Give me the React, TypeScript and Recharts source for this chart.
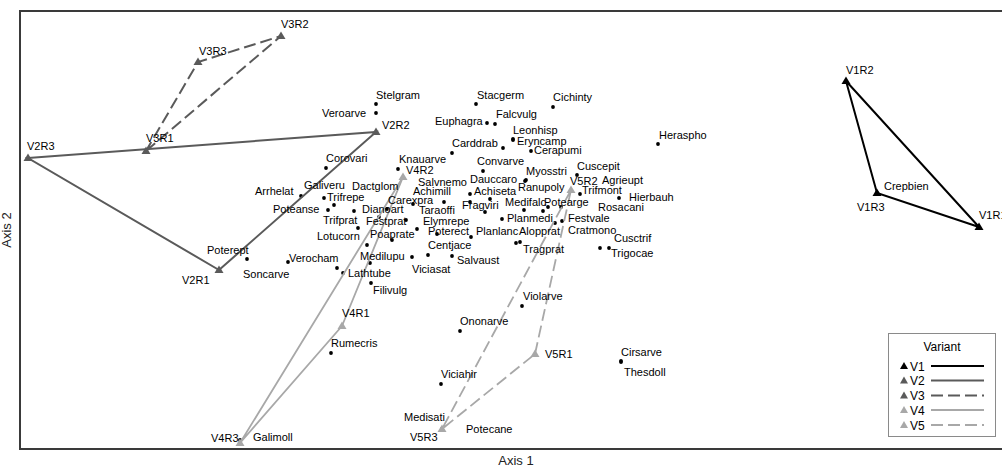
import React from 'react';
import { ScatterChart, Scatter, XAxis, YAxis } from 'recharts';

// ---------- species scores (Axis 1 / Axis 2) ----------
const SPECIES = [
  'Stelgram', 'Veroarve', 'Stacgerm', 'Cichinty', 'Euphagra', 'Falcvulg', 'Leonhisp', 'Eryncamp',
  'Carddrab', 'Cerapumi', 'Heraspho', 'Knauarve', 'Salvnemo', 'Corovari', 'Convarve', 'Myosstri',
  'Dauccaro', 'Cuscepit', 'Arrhelat', 'Trifrepe', 'Galiveru', 'Poteanse', 'Dactglom', 'Dianoart',
  'Carexpra', 'Achimill', 'Trifprat', 'Festprat', 'Taraoffi', 'Elymrepe', 'Poterect', 'Centjace',
  'Poaprate', 'Lotucorn', 'Medilupu', 'Viciasat', 'Salvaust', 'Medisati', 'Soncarve', 'Lathtube',
  'Filivulg', 'Verocham', 'Poterept', 'Achiseta', 'Fragviri', 'Rosacani', 'Planlanc', 'Planmedi',
  'Medifalc', 'Potearge', 'Ranupoly', 'Agrieupt', 'Cratmono', 'Festvale', 'Tragprat', 'Alopprat',
  'Trifmont', 'Hierbauh', 'Cusctrif', 'Trigocae', 'Violarve', 'Ononarve', 'Rumecris', 'Cirsarve',
  'Thesdoll', 'Viciahir', 'Galimoll', 'Potecane', 'Crepbien',
];
const SPECIES_AXIS1 = [
  -1.24, -1.24, -0.24, 0.53, -0.13, -0.05, 0.13, 0.13,
  0.03, 0.31, 1.58, -1.02, -0.48, -1.74, -0.17, 0.26,
  0.25, 0.77, -1.99, -1.76, -1.66, -1.72, -1.46, -1.13,
  -0.87, -0.56, -1.42, -1.21, -0.94, -0.83, -0.63, -0.29,
  -1.08, -1.33, -0.88, -0.72, -0.48, -1.30, -1.63, -1.57,
  -1.29, -2.12, -2.53, -0.30, -0.30, -0.10, -0.15, 0.02,
  0.24, 0.43, 0.48, 0.61, 0.55, 0.62, 0.16, 0.20,
  0.80, 1.19, 1.00, 1.09, 0.22, -0.40, -1.69, 1.21,
  1.21, -0.59, -2.60, -0.58, 3.77,
];
const SPECIES_AXIS2 = [
  1.26, 1.17, 1.26, 1.23, 1.07, 1.06, 0.91, 0.90,
  0.82, 0.79, 0.86, 0.61, 0.77, 0.62, 0.59, 0.50,
  0.49, 0.55, 0.34, 0.32, 0.25, 0.20, 0.19, 0.21,
  0.26, 0.28, 0.02, 0.13, 0.10, 0.01, -0.04, -0.07,
  -0.10, -0.15, -0.27, -0.25, -0.26, -0.33, -0.38, -0.43,
  -0.53, -0.32, -0.29, 0.36, 0.28, 0.31, 0.18, 0.11,
  0.20, 0.19, 0.23, 0.23, 0.07, 0.09, -0.13, -0.12,
  0.36, 0.32, -0.18, -0.18, -0.76, -1.01, -1.23, -1.31,
  -1.32, -1.54, -2.10, -1.99, 0.37,
];

// ---------- site scores per variant (replicates R1, R2, R3) ----------
const VARIANTS = ['V1', 'V2', 'V3', 'V4', 'V5'];
const REPLICATES = ['R1', 'R2', 'R3'];
const V1_AXIS1 = [4.79, 3.46, 3.77];
const V1_AXIS2 = [0.03, 1.49, 0.37];
const V2_AXIS1 = [-2.81, -1.24, -4.72];
const V2_AXIS2 = [-0.40, 0.98, 0.72];
const V3_AXIS1 = [-3.54, -2.19, -3.02];
const V3_AXIS2 = [0.79, 1.94, 1.68];
const V4_AXIS1 = [-1.58, -0.97, -2.60];
const V4_AXIS2 = [-0.96, 0.53, -2.13];
const V5_AXIS1 = [0.35, 0.71, -0.58];
const V5_AXIS2 = [-1.24, 0.40, -1.99];
const SITE_AXIS1 = [V1_AXIS1, V2_AXIS1, V3_AXIS1, V4_AXIS1, V5_AXIS1];
const SITE_AXIS2 = [V1_AXIS2, V2_AXIS2, V3_AXIS2, V4_AXIS2, V5_AXIS2];

// ---------- styles ----------
const FONT = '"Liberation Sans", Arial, Helvetica, sans-serif';
const VARIANT_STYLE: Record<string, { color: string; width: number; dash?: string }> = {
  V1: { color: '#000000', width: 2 },
  V2: { color: '#5a5a5a', width: 2 },
  V3: { color: '#5a5a5a', width: 2, dash: '12 5' },
  V4: { color: '#a8a8a8', width: 1.8 },
  V5: { color: '#a8a8a8', width: 1.8, dash: '12 5' },
};

// label placement (px offset of label's left edge / vertical centre from its point)
const LABEL_OFFSET: Record<string, [number, number]> = {
  Stelgram: [0, -9], Veroarve: [-54, 0], Stacgerm: [1, -9], Cichinty: [0, -10],
  Euphagra: [-52, -2], Falcvulg: [1, -10], Leonhisp: [0, -9], Eryncamp: [4, 1],
  Carddrab: [-51, -5], Cerapumi: [3, -1], Heraspho: [1, -9], Knauarve: [1, -10],
  Salvnemo: [-34, 29], Corovari: [0, -10], Convarve: [-6, -10], Myosstri: [0, -9],
  Dauccaro: [-55, -2], Cuscepit: [0, -9], Arrhelat: [-46, -5], Trifrepe: [3, -1],
  Galiveru: [-30, -20], Poteanse: [-55, -1], Dactglom: [-2, -25], Dianoart: [-25, 0],
  Carexpra: [-25, -4], Achimill: [-31, -11], Trifprat: [-35, -8], Festprat: [-13, 4],
  Taraoffi: [13, -10], Elymrepe: [6, -8], Poterect: [-9, -3], Centjace: [-43, 8],
  Poaprate: [-22, -6], Lotucorn: [-50, -9], Medilupu: [-52, -1], Viciasat: [-16, 14],
  Salvaust: [5, 4], Medisati: [34, 154], Soncarve: [-94, 6], Lathtube: [5, 0],
  Filivulg: [2, 7], Verocham: [1, -4], Poterept: [-40, -9], Achiseta: [4, -3],
  Fragviri: [-8, 3], Rosacani: [108, 8], Planlanc: [-9, 19], Planmedi: [5, -1],
  Medifalc: [-19, -8], Potearge: [1, -9], Ranupoly: [-30, -20], Agrieupt: [41, -27],
  Cratmono: [13, 7], Festvale: [6, -3], Tragprat: [7, 6], Alopprat: [-1, -11],
  Trifmont: [2, -4], Hierbauh: [10, -1], Cusctrif: [14, -10], Trigocae: [2, 5],
  Violarve: [1, -10], Ononarve: [0, -10], Rumecris: [0, -10], Cirsarve: [0, -9],
  Thesdoll: [3, 10], Viciahir: [0, -10], Galimoll: [13, -3], Potecane: [24, 0],
  Crepbien: [7, -7],
  V1R1: [0, -12], V1R2: [0, -11], V1R3: [-20, 14],
  V2R1: [-37, 10], V2R2: [6, -7], V2R3: [-1, -12],
  V3R1: [0, -13], V3R2: [0, -12], V3R3: [1, -11],
  V4R1: [0, -13], V4R2: [3, -7], V4R3: [-29, -5],
  V5R1: [10, 0], V5R2: [-1, -9], V5R3: [-32, 8],
};

const speciesData = SPECIES.map((name, i) => ({ name, x: SPECIES_AXIS1[i], y: SPECIES_AXIS2[i] }));
const variantData = VARIANTS.map((v, vi) => {
  const pts = REPLICATES.map((r, ri) => ({
    site: v + r,
    x: SITE_AXIS1[vi][ri],
    y: SITE_AXIS2[vi][ri],
    close: false,
  }));
  return [...pts, { ...pts[0], close: true }];
});

const labelText = (x: number, y: number, name: string) => {
  const off = LABEL_OFFSET[name] || [0, -10];
  return (
    <text x={x + off[0]} y={y + off[1] + 4} fontSize={11} fontFamily={FONT} fill="#000">
      {name}
    </text>
  );
};

const DotShape = (p: any) => <circle cx={p.cx} cy={p.cy} r={1.9} fill="#000" />;
const SpeciesLabelShape = (p: any) => labelText(p.cx, p.cy, p.payload.name);

const makeSiteShape = (color: string) => (p: any) => {
  if (p.payload.close) return <g />;
  const { cx, cy } = p;
  return (
    <g>
      <path d={`M${cx},${cy - 4.5} L${cx + 4.5},${cy + 3} L${cx - 4.5},${cy + 3} Z`} fill={color} />
      {labelText(cx, cy, p.payload.site)}
    </g>
  );
};

const LEGEND_ROWS_Y = [366, 380.5, 395.5, 410, 425];

export default function App() {
  return (
    <div style={{ position: 'absolute', left: 0, top: 0, width: 1002, height: 468, overflow: 'hidden', background: '#fff' }}>
      <ScatterChart width={1012} height={468} margin={{ top: 11, right: 0, bottom: 19, left: 20 }}>
        <XAxis type="number" dataKey="x" domain={[-4.8, 5.12]} hide allowDataOverflow />
        <YAxis type="number" dataKey="y" domain={[-2.19, 2.19]} hide allowDataOverflow />
        <Scatter data={speciesData} shape={DotShape} isAnimationActive={false} />
        {VARIANTS.map((v, vi) => {
          const st = VARIANT_STYLE[v];
          return (
            <Scatter
              key={v}
              data={variantData[vi]}
              fill={st.color}
              line={{ stroke: st.color, strokeWidth: st.width, strokeDasharray: st.dash }}
              lineType="joint"
              shape={makeSiteShape(st.color)}
              isAnimationActive={false}
            />
          );
        })}
        <Scatter data={speciesData} shape={SpeciesLabelShape} isAnimationActive={false} />
      </ScatterChart>

      <svg width={1002} height={468} style={{ position: 'absolute', left: 0, top: 0, pointerEvents: 'none' }}>
        <rect x={20} y={11} width={1000} height={438} fill="none" stroke="#3a3a3a" strokeWidth={2} />
        <text x={516} y={465} textAnchor="middle" fontSize={13} fontFamily={FONT} fill="#222">Axis 1</text>
        <text transform="translate(11,230) rotate(-90)" textAnchor="middle" fontSize={13} fontFamily={FONT} fill="#222">Axis 2</text>
        <rect x={888.5} y={333.5} width={107} height={103} fill="#fff" stroke="#8a8a8a" strokeWidth={1} />
        <text x={942} y={351} textAnchor="middle" fontSize={12} fontFamily={FONT} fill="#000">Variant</text>
        {VARIANTS.map((v, i) => {
          const st = VARIANT_STYLE[v];
          const y = LEGEND_ROWS_Y[i];
          return (
            <g key={v}>
              <path d={`M904,${y - 4} L908,${y + 3} L900,${y + 3} Z`} fill={st.color} />
              <text x={910} y={y + 4.5} fontSize={12} fontFamily={FONT} fill="#000">{v}</text>
              <line x1={931} x2={984} y1={y} y2={y} stroke={st.color} strokeWidth={st.width} strokeDasharray={st.dash} />
            </g>
          );
        })}
      </svg>
    </div>
  );
}
